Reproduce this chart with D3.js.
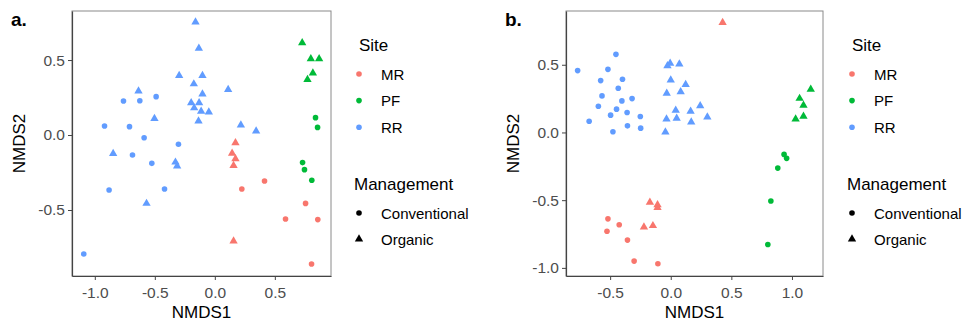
<!DOCTYPE html>
<html>
<head>
<meta charset="utf-8">
<script src="https://cdn.jsdelivr.net/npm/d3@7"></script>
<style>
  body { margin: 0; background: #fff; }
  text { font-family: "Liberation Sans", Arial, sans-serif; }
</style>
</head>
<body>
<svg id="chart" width="962" height="324"></svg>
<script>
// categories
const sites = ["MR", "PF", "RR"]
const siteColors = ["#F8766D", "#00BA38", "#619CFF"]
const managements = ["Conventional", "Organic"]

// panel a, points [NMDS1, NMDS2]
const aRRconv = [[-0.761,0.227],[-0.625,0.229],[-0.489,0.256],[-0.919,0.060],[-0.711,0.056],[-0.589,-0.018],
  [-0.303,-0.062],[-0.686,-0.133],[-0.525,-0.189],[-0.881,-0.367],[-0.419,-0.360],[-1.092,-0.793]]
const aRRorg = [[-0.161,0.756],[-0.133,0.582],[-0.297,0.400],[-0.103,0.400],[-0.175,0.344],[-0.636,0.296],
  [-0.103,0.276],[0.111,0.307],[-0.197,0.218],[-0.131,0.218],[-0.172,0.184],[-0.114,0.162],[-0.050,0.156],
  [-0.136,0.096],[-0.503,0.113],[0.217,0.069],[0.344,0.029],[-0.847,-0.120],[-0.328,-0.178],[-0.314,-0.204],[-0.569,-0.453]]
const aMRconv = [[0.414,-0.307],[0.225,-0.360],[0.756,-0.456],[0.589,-0.560],[0.858,-0.564],[0.806,-0.860]]
const aMRorg = [[0.172,-0.049],[0.144,-0.118],[0.172,-0.156],[0.156,-0.200],[0.156,-0.704]]
const aPFconv = [[0.839,0.116],[0.856,0.051],[0.731,-0.184],[0.747,-0.231],[0.808,-0.302]]
const aPForg = [[0.728,0.618],[0.800,0.511],[0.869,0.511],[0.817,0.416],[0.772,0.373]]

// panel b
const bRRconv = [[-0.452,0.577],[-0.768,0.457],[-0.518,0.466],[-0.578,0.383],[-0.398,0.393],[-0.433,0.326],
  [-0.567,0.270],[-0.403,0.233],[-0.319,0.250],[-0.597,0.194],[-0.447,0.172],[-0.496,0.128],[-0.360,0.147],
  [-0.251,0.118],[-0.673,0.083],[-0.357,0.049],[-0.248,0.032],[-0.477,0.005]]
const bRRorg = [[-0.005,0.515],[-0.027,0.496],[0.071,0.508],[0.000,0.390],[0.123,0.358],[-0.033,0.292],
  [0.082,0.304],[0.243,0.201],[0.041,0.167],[0.164,0.160],[-0.035,0.103],[0.049,0.108],[0.169,0.081],
  [0.302,0.118],[-0.044,0.007]]
const bMRconv = [[-0.518,-0.638],[-0.425,-0.682],[-0.526,-0.729],[-0.357,-0.795],[-0.302,-0.950],[-0.106,-0.970]]
const bMRorg = [[0.428,0.815],[-0.172,-0.513],[-0.109,-0.530],[-0.109,-0.552],[-0.221,-0.695],[-0.147,-0.685]]
const bPFconv = [[0.935,-0.162],[0.956,-0.191],[0.883,-0.263],[0.826,-0.506],[0.801,-0.827]]
const bPForg = [[1.155,0.322],[1.063,0.255],[1.095,0.204],[1.095,0.123],[1.030,0.103]]

// ticks
const aXTicks = [-1.0, -0.5, 0.0, 0.5]
const aYTicks = [-0.5, 0.0, 0.5]
const bXTicks = [-0.5, 0.0, 0.5, 1.0]
const bYTicks = [-1.0, -0.5, 0.0, 0.5]

function groups(mrC, mrO, pfC, pfO, rrC, rrO){
  return [
    { site: 0, mgmt: 0, pts: mrC }, { site: 0, mgmt: 1, pts: mrO },
    { site: 1, mgmt: 0, pts: pfC }, { site: 1, mgmt: 1, pts: pfO },
    { site: 2, mgmt: 0, pts: rrC }, { site: 2, mgmt: 1, pts: rrO }
  ]
}

const svg = d3.select("#chart")
const triSize = 30
const dotR = 2.8

function drawPanel(opt){
  let { left, right, top, bottom, xDom, yDom, xTicks, yTicks, label, data, legendX } = opt
  let x = d3.scaleLinear().domain(xDom).range([left, right])
  let y = d3.scaleLinear().domain(yDom).range([bottom, top])
  let g = svg.append("g")

  g.append("rect")
    .attr("x", left).attr("y", top)
    .attr("width", right - left).attr("height", bottom - top)
    .attr("fill", "none").attr("stroke", "#8a8a8a").attr("stroke-width", 1)

  let fmt = d3.format(".1f")
  let xa = g.append("g").attr("transform", `translate(0,${bottom})`)
    .call(d3.axisBottom(x).tickValues(xTicks).tickFormat(fmt).tickSize(4).tickSizeOuter(0).tickPadding(3))
  let ya = g.append("g").attr("transform", `translate(${left},0)`)
    .call(d3.axisLeft(y).tickValues(yTicks).tickFormat(fmt).tickSize(4).tickSizeOuter(0).tickPadding(3))
  ;[xa, ya].forEach(a => {
    a.select(".domain").attr("stroke", "#444").attr("stroke-width", 1.2)
    a.selectAll(".tick line").attr("stroke", "#444")
    a.selectAll(".tick text").attr("fill", "#4d4d4d").style("font-size", "15.5px")
      .style("font-family", "'Liberation Sans', Arial, sans-serif")
  })
  xa.selectAll(".tick text").attr("dy", "0.95em")
  // ggplot minus sign looks like a hyphen
  g.selectAll(".tick text").text(d => fmt(d).replace("\u2212", "-"))

  g.append("text").attr("x", (left + right) / 2).attr("y", 318)
    .attr("text-anchor", "middle").style("font-size", "17px").text("NMDS1")
  g.append("text")
    .attr("transform", `translate(${opt.yTitleX},${(top + bottom) / 2}) rotate(-90)`)
    .attr("text-anchor", "middle").style("font-size", "17px").text("NMDS2")
  g.append("text").attr("x", opt.labelX).attr("y", 26)
    .style("font-size", "19px").style("font-weight", "bold").text(label)

  let tri = d3.symbol().type(d3.symbolTriangle).size(triSize)
  data.forEach(grp => {
    let col = siteColors[grp.site]
    if(grp.mgmt == 0){
      g.selectAll(null).data(grp.pts).enter().append("circle")
        .attr("cx", d => x(d[0])).attr("cy", d => y(d[1]))
        .attr("r", dotR).attr("fill", col)
    }else{
      g.selectAll(null).data(grp.pts).enter().append("path")
        .attr("d", tri)
        .attr("transform", d => `translate(${x(d[0])},${y(d[1]) + 0.5})`)
        .attr("fill", col)
    }
  })

  // legends
  let lg = g.append("g")
  lg.append("text").attr("x", legendX + 1).attr("y", 51).style("font-size", "17px").text("Site")
  sites.forEach((s, i) => {
    let yy = 74 + i * 26.6
    lg.append("circle").attr("cx", legendX + 1).attr("cy", yy).attr("r", dotR).attr("fill", siteColors[i])
    lg.append("text").attr("x", legendX + 23).attr("y", yy + 5.5).style("font-size", "15px").text(s)
  })
  lg.append("text").attr("x", legendX - 4).attr("y", 190).style("font-size", "17px").text("Management")
  managements.forEach((m, i) => {
    let yy = 213 + i * 26
    if(i == 0){
      lg.append("circle").attr("cx", legendX + 1).attr("cy", yy).attr("r", dotR).attr("fill", "#000")
    }else{
      lg.append("path").attr("d", d3.symbol().type(d3.symbolTriangle).size(triSize)())
        .attr("transform", `translate(${legendX + 1},${yy})`).attr("fill", "#000")
    }
    lg.append("text").attr("x", legendX + 23).attr("y", yy + 5.5).style("font-size", "15px").text(m)
  })
}

drawPanel({
  left: 72, right: 331, top: 11, bottom: 276,
  xDom: [-1.19, 0.968], yDom: [-0.94, 0.827],
  xTicks: aXTicks, yTicks: aYTicks, label: "a.", labelX: 11, yTitleX: 25,
  data: groups(aMRconv, aMRorg, aPFconv, aPForg, aRRconv, aRRorg),
  legendX: 358
})
drawPanel({
  left: 566, right: 823, top: 11, bottom: 276,
  xDom: [-0.864, 1.256], yDom: [-1.06, 0.897],
  xTicks: bXTicks, yTicks: bYTicks, label: "b.", labelX: 505, yTitleX: 519,
  data: groups(bMRconv, bMRorg, bPFconv, bPForg, bRRconv, bRRorg),
  legendX: 851
})
</script>
</body>
</html>
